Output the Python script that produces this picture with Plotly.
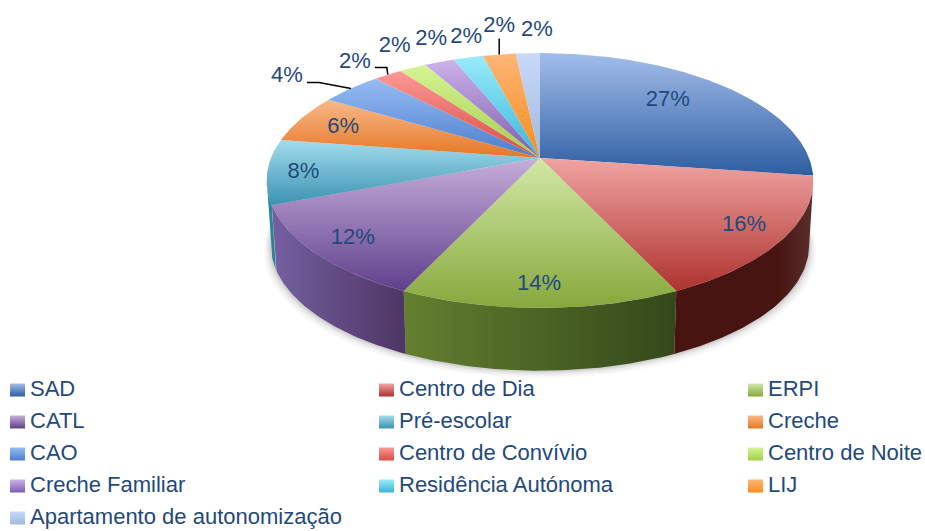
import numpy as np
import plotly.graph_objects as go

# ---------- data ----------
categories = ["SAD", "Centro de Dia", "ERPI", "CATL", "Pré-escolar", "Creche", "CAO",
              "Centro de Convívio", "Centro de Noite", "Creche Familiar",
              "Residência Autónoma", "LIJ", "Apartamento de autonomização"]
values = [27.2, 15.8, 14.0, 12.2, 8.2, 6.2, 4.3, 2.0, 1.9, 2.1, 2.1, 2.3, 1.7]

# ---------- styles ----------
light = ["#a3bdea", "#efa5a3", "#d2e8a6", "#c6aed9", "#a3dcec", "#f9b98a", "#97bcf3", "#fc9a96",
         "#d6f494", "#ccb2ea", "#98ecf9", "#fdb577", "#c8d9f9"]
dark = ["#2d5da1", "#ae322e", "#87a83c", "#5f3f8c", "#3a93b1", "#e67624", "#4a7dcc", "#d94a44",
        "#a2cd4c", "#7d5dae", "#3ab5da", "#f78d1c", "#a0b9dc"]
wall_a = ["#24477c", "#5c302d", "#63802f", "#7560a0", "#2b8ba0", "#a85a1a", "#355a96", "#9c3531",
          "#769537", "#5b447e", "#2a839e", "#b36614", "#7388a2"]
wall_b = ["#24477c", "#481412", "#34471a", "#4d3564", "#2b7f94", "#a85a1a", "#355a96", "#9c3531",
          "#769537", "#5b447e", "#2a839e", "#b36614", "#7388a2"]
text_color = "#1f497d"
font = "Liberation Sans"
fsize = 22

# ---------- geometry ----------
W, H = 925, 531
cx, cy = 540, 158      # apex of the pie on screen
A, B, k = 269.0, 123.5, 0.1765  # perspective projection of the unit circle
depth, shrink = 65, 0.985
vis_from, vis_to = np.degrees(np.pi - np.arccos(k)), np.degrees(np.pi + np.arccos(k))

# label offset from the rim point at the slice's mid angle (pixels)
label_dx = [-54, -38, -1, 37, 36, 42, -64, -33, -18, -8, -2, 0, 9]
label_dy = [15, -14, -23, -15, 1, 9, -12, -12, -21, -23, -20, -28, -23]


def rim(theta_deg, r=1.0):
    t = np.radians(theta_deg)
    u, v = r * np.sin(t), r * np.cos(t)
    d = 1 + k * v
    return cx + A * u / d, cy - B * v / d


def lower(x, y):
    return cx + shrink * (x - cx), cy + shrink * (y - cy) + depth


total = sum(values)
edges = np.concatenate([[0], np.cumsum(values)]) / total * 360
fig = go.Figure()

# soft shadow round the base
ang = np.linspace(vis_from - 15, vis_to + 15, 160)
sx, sy = rim(ang)
bx, by = lower(sx, sy)
for grow, alpha in zip([7, 5, 3, 1.5], [0.035, 0.05, 0.07, 0.09]):
    fig.add_trace(go.Scatter(
        x=np.r_[sx, (bx - cx) * (1 + grow / 270) + cx][:], y=np.r_[sy, (by + grow)],
        mode="lines", line_width=0, fill="toself", fillcolor=f"rgba(60,60,60,{alpha})",
        hoverinfo="skip", showlegend=False))

# side walls
for i in range(len(values)):
    a0, a1 = max(edges[i], vis_from), min(edges[i + 1], vis_to)
    if a1 <= a0:
        continue
    t = np.linspace(a0, a1, 60)
    x, y = rim(t)
    xb, yb = lower(x, y)
    fig.add_trace(go.Scatter(
        x=np.r_[x, xb[::-1], x[0]], y=np.r_[y, yb[::-1], y[0]], mode="lines", line_width=0,
        fill="toself", fillcolor=wall_a[i],
        fillgradient=dict(type="horizontal", colorscale=[[0, wall_a[i]], [1, wall_b[i]]] if i >= 2
                          else [[0, wall_b[i]], [0.75, wall_b[i]], [1, wall_a[i]]]),
        hoverinfo="skip", showlegend=False))

# top slices
for i in range(len(values)):
    t = np.linspace(edges[i], edges[i + 1], max(6, int(edges[i + 1] - edges[i]) * 2))
    x, y = rim(t)
    fig.add_trace(go.Scatter(
        x=np.r_[cx, x, cx], y=np.r_[cy, y, cy], mode="lines", line_width=0, name=categories[i],
        fill="toself", fillcolor=light[i],
        fillgradient=dict(type="vertical", colorscale=[[0, dark[i]], [1, light[i]]]),
        hoverinfo="skip", showlegend=False))

# data labels
mids = (edges[:-1] + edges[1:]) / 2
mx, my = rim(mids)
lx = mx + np.array(label_dx)
ly = my + np.array(label_dy)
fig.add_trace(go.Scatter(
    x=lx, y=ly, mode="text", text=[f"{round(v)}%" for v in values], textposition="middle center",
    textfont=dict(family=font, size=fsize, color=text_color), hoverinfo="skip", showlegend=False))

# leader lines: rim point -> elbow -> near the label
for i, pts in {6: [(-32, -6), (-44, -6)], 7: [(-1, -7), (-13, -7)], 11: [(0, -16)]}.items():
    fig.add_trace(go.Scatter(
        x=[mx[i]] + [mx[i] + p[0] for p in pts], y=[my[i]] + [my[i] + p[1] for p in pts],
        mode="lines", line=dict(color="#000000", width=1.5), hoverinfo="skip", showlegend=False))

# legend (three columns, swatch + text)
col_x, row_y = [10, 379, 748], 390
row_h = 32
for i, name in enumerate(categories):
    x0 = col_x[i % 3]
    yc = row_y + row_h * (i // 3)
    fig.add_trace(go.Scatter(
        x=[x0, x0 + 15, x0 + 15, x0, x0], y=[yc - 6.5, yc - 6.5, yc + 6.5, yc + 6.5, yc - 6.5],
        mode="lines", line_width=0, fill="toself", fillcolor=light[i],
        fillgradient=dict(type="vertical", colorscale=[[0, dark[i]], [1, light[i]]]),
        hoverinfo="skip", showlegend=False))
    fig.add_trace(go.Scatter(
        x=[x0 + 20], y=[yc], mode="text", text=[name], textposition="middle right",
        textfont=dict(family=font, size=fsize, color=text_color), hoverinfo="skip", showlegend=False))

fig.update_layout(
    width=W, height=H, margin=dict(l=0, r=0, t=0, b=0), paper_bgcolor="white", plot_bgcolor="white",
    xaxis=dict(range=[0, W], visible=False, fixedrange=True),
    yaxis=dict(range=[H, 0], visible=False, fixedrange=True),
    showlegend=False)
fig.write_html("out.html", config={"displayModeBar": False},
               post_script="document.body.style.margin='0';document.documentElement.style.overflow='hidden';")
